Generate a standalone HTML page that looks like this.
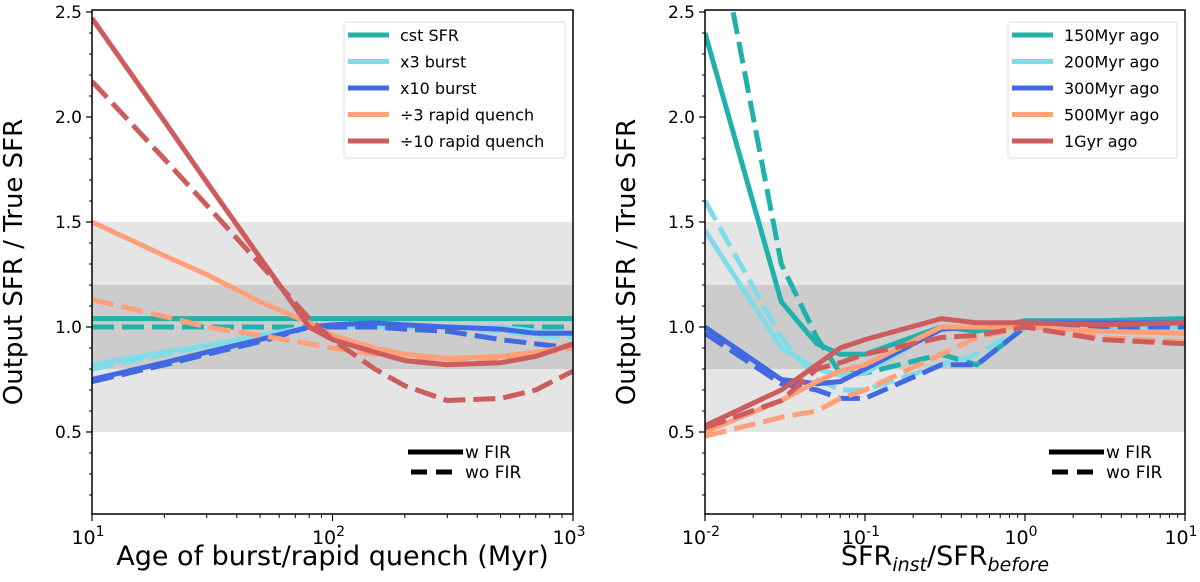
<!DOCTYPE html>
<html><head><meta charset="utf-8"><style>
body{margin:0;background:#fff;width:1200px;height:577px;overflow:hidden}
svg{font-family:"DejaVu Sans","Liberation Sans",sans-serif}
</style></head><body>
<svg id="c" width="1200" height="577" xmlns="http://www.w3.org/2000/svg"></svg>
<script>
// ---- data ----
const leftSeriesNames = ["cst SFR","x3 burst","x10 burst","÷3 rapid quench","÷10 rapid quench"];
const rightSeriesNames = ["150Myr ago","200Myr ago","300Myr ago","500Myr ago","1Gyr ago"];
const colors = ["#20b2aa","#80dbe9","#4169e1","#ffa07a","#cd5c5c"];
const leftX = [10,20,30,50,80,100,150,200,300,500,700,1000];
const leftSolid = [
 [1.04,1.04,1.04,1.04,1.04,1.04,1.04,1.04,1.04,1.04,1.04,1.04],
 [0.82,0.88,0.91,0.96,1.0,1.0,1.0,1.0,1.0,1.0,0.98,0.97],
 [0.75,0.83,0.88,0.94,1.0,1.01,1.02,1.01,1.0,0.99,0.97,0.97],
 [1.5,1.34,1.25,1.12,1.02,0.96,0.9,0.87,0.85,0.86,0.88,0.91],
 [2.47,1.98,1.69,1.33,1.0,0.94,0.88,0.84,0.82,0.83,0.86,0.92]];
const leftDashed = [
 [1.0,1.0,1.0,1.0,1.0,1.0,1.0,1.0,1.0,1.0,1.0,1.0],
 [0.8,0.87,0.91,0.96,1.0,1.0,1.0,1.0,1.0,0.98,0.96,0.95],
 [0.74,0.82,0.87,0.93,1.0,1.0,1.0,0.99,0.98,0.94,0.92,0.9],
 [1.13,1.05,1.0,0.96,0.92,0.9,0.87,0.86,0.84,0.85,0.87,0.9],
 [2.17,1.8,1.58,1.3,1.04,0.94,0.8,0.72,0.65,0.66,0.7,0.79]];
const rightX = [0.01,0.03,0.05,0.07,0.1,0.3,0.5,1,3,10];
const rightSolid = [
 [2.4,1.12,0.92,0.87,0.87,1.0,0.98,1.03,1.03,1.04],
 [1.46,0.9,0.8,0.77,0.78,1.0,1.0,1.02,1.02,1.02],
 [1.0,0.75,0.73,0.74,0.8,0.99,1.0,1.02,1.02,1.02],
 [0.5,0.65,0.74,0.79,0.82,1.0,1.0,1.0,0.98,0.97],
 [0.53,0.7,0.82,0.9,0.94,1.04,1.02,1.02,1.01,1.02]];
const rightDashed = [
 [3.2,1.3,0.95,0.78,0.78,0.87,0.82,1.0,1.0,1.0],
 [1.6,0.95,0.75,0.7,0.7,0.82,0.87,1.0,1.0,1.0],
 [0.97,0.73,0.7,0.66,0.66,0.82,0.82,1.0,1.0,1.0],
 [0.48,0.57,0.6,0.66,0.7,0.87,0.95,1.0,0.95,0.93],
 [0.52,0.65,0.8,0.83,0.87,0.95,0.96,1.0,0.94,0.92]];
const yTicks = [0.5,1.0,1.5,2.0,2.5];
// ---- drawing ----
const NS="http://www.w3.org/2000/svg", svg=document.getElementById('c');
function el(t,a,p){const e=document.createElementNS(NS,t);for(const k in a)e.setAttribute(k,a[k]);(p||svg).appendChild(e);return e;}
const TOP=12,BOT=514;
function yS(v){return TOP+(2.5-v)*210;}
function panel(L,R,dec0,ndec,xs,solid,dashed,names,legX,firX,xlabel,pname){
  const g=el('g',{});
  
  
  const xS=v=>L+(Math.log10(v)-dec0)*(R-L)/ndec;
  const cp='cp'+pname;
  const d=el('clipPath',{id:cp},g);el('rect',{x:L,y:TOP-2,width:R-L,height:BOT-TOP+2},d);
  const b1=el('rect',{x:L,y:yS(1.5),width:R-L,height:yS(0.5)-yS(1.5),fill:'#e5e5e5'},g);
  
  const b2=el('rect',{x:L,y:yS(1.2),width:R-L,height:yS(0.8)-yS(1.2),fill:'#cccccc'},g);
  
  const lg=el('g',{'clip-path':`url(#${cp})`},g);
  for(let i=0;i<5;i++){
    [[solid,null],[dashed,'22,8']].forEach(([arr,da])=>{
      const p=arr[i].map((v,j)=>xS(xs[j]).toFixed(1)+','+yS(v).toFixed(1)).join(' ');
      const a={points:p,fill:'none',stroke:colors[i],'stroke-width':5,'stroke-linejoin':'round'};
      if(da)a['stroke-dasharray']=da;
      const pl=el('polyline',a,lg);
      
      
    });
  }
  el('rect',{x:L,y:TOP-2,width:R-L,height:BOT-TOP+2,fill:'none',stroke:'#000','stroke-width':1.5},g);
  yTicks.forEach(v=>{el('line',{x1:L-6,x2:L,y1:yS(v),y2:yS(v),stroke:'#000','stroke-width':1.2},g);
    const t=el('text',{x:L-10,y:yS(v)+6,'text-anchor':'end','font-size':17},g);t.textContent=v.toFixed(1);
    });
  for(let v=0.2;v<2.55;v+=0.1){if(Math.abs(v*2-Math.round(v*2))<1e-6)continue;el('line',{x1:L-3,x2:L,y1:yS(v),y2:yS(v),stroke:'#000'},g);}
  for(let k=0;k<=ndec;k++){const x=L+k*(R-L)/ndec;
    el('line',{x1:x,x2:x,y1:BOT,y2:BOT+7,stroke:'#000','stroke-width':1.2},g);
    const t=el('text',{x:x-4,y:BOT+30,'text-anchor':'middle','font-size':19},g);
    
    t.innerHTML='10<tspan dy="-8" font-size="14">'+(dec0+k)+'</tspan>';
    if(k<ndec)for(let m=2;m<10;m++){const xm=L+(k+Math.log10(m))*(R-L)/ndec;el('line',{x1:xm,x2:xm,y1:BOT,y2:BOT+4,stroke:'#000'},g);}
  }
  const yl=el('text',{x:0,y:0,'font-size':26,'text-anchor':'middle',transform:`translate(${L-70},262) rotate(-90)`},g);
  yl.textContent='Output SFR / True SFR';
  const xl=el('text',{x:(L+R)/2,y:565,'font-size':27,'text-anchor':'middle'},g);
  xl.innerHTML=xlabel;
  // legend
  const lgd=el('g',{},g);
  el('rect',{x:legX,y:22,width:R-8-legX,height:136,fill:'#fff',stroke:'#ddd',rx:2},lgd);
  names.forEach((n,i)=>{const y=35+i*26.5;
    el('line',{x1:legX+4,x2:legX+45,y1:y,y2:y,stroke:colors[i],'stroke-width':5},lgd);
    const t=el('text',{x:legX+56,y:y+6,'font-size':16},lgd);t.textContent=n;
    });
  const fg=el('g',{},g);
  el('line',{x1:firX,x2:firX+55,y1:452,y2:452,stroke:'#000','stroke-width':5},fg);
  el('line',{x1:firX+3,x2:firX+52,y1:472,y2:472,stroke:'#000','stroke-width':5,'stroke-dasharray':'16,9'},fg);
  const t1=el('text',{x:firX+57,y:458,'font-size':17},fg);t1.textContent='w FIR';
  const t2=el('text',{x:firX+57,y:478,'font-size':17},fg);t2.textContent='wo FIR';
}
panel(92,573,1,2,leftX,leftSolid,leftDashed,leftSeriesNames,344,408,'Age of burst/rapid quench (Myr)','left-panel');
panel(705,1185,-2,3,rightX,rightSolid,rightDashed,rightSeriesNames,1008,1049,'SFR<tspan dy="6" font-size="19" font-style="italic">inst</tspan><tspan dy="-6">/SFR</tspan><tspan dy="6" font-size="19" font-style="italic">before</tspan>','right-panel');
</script>
</body></html>
